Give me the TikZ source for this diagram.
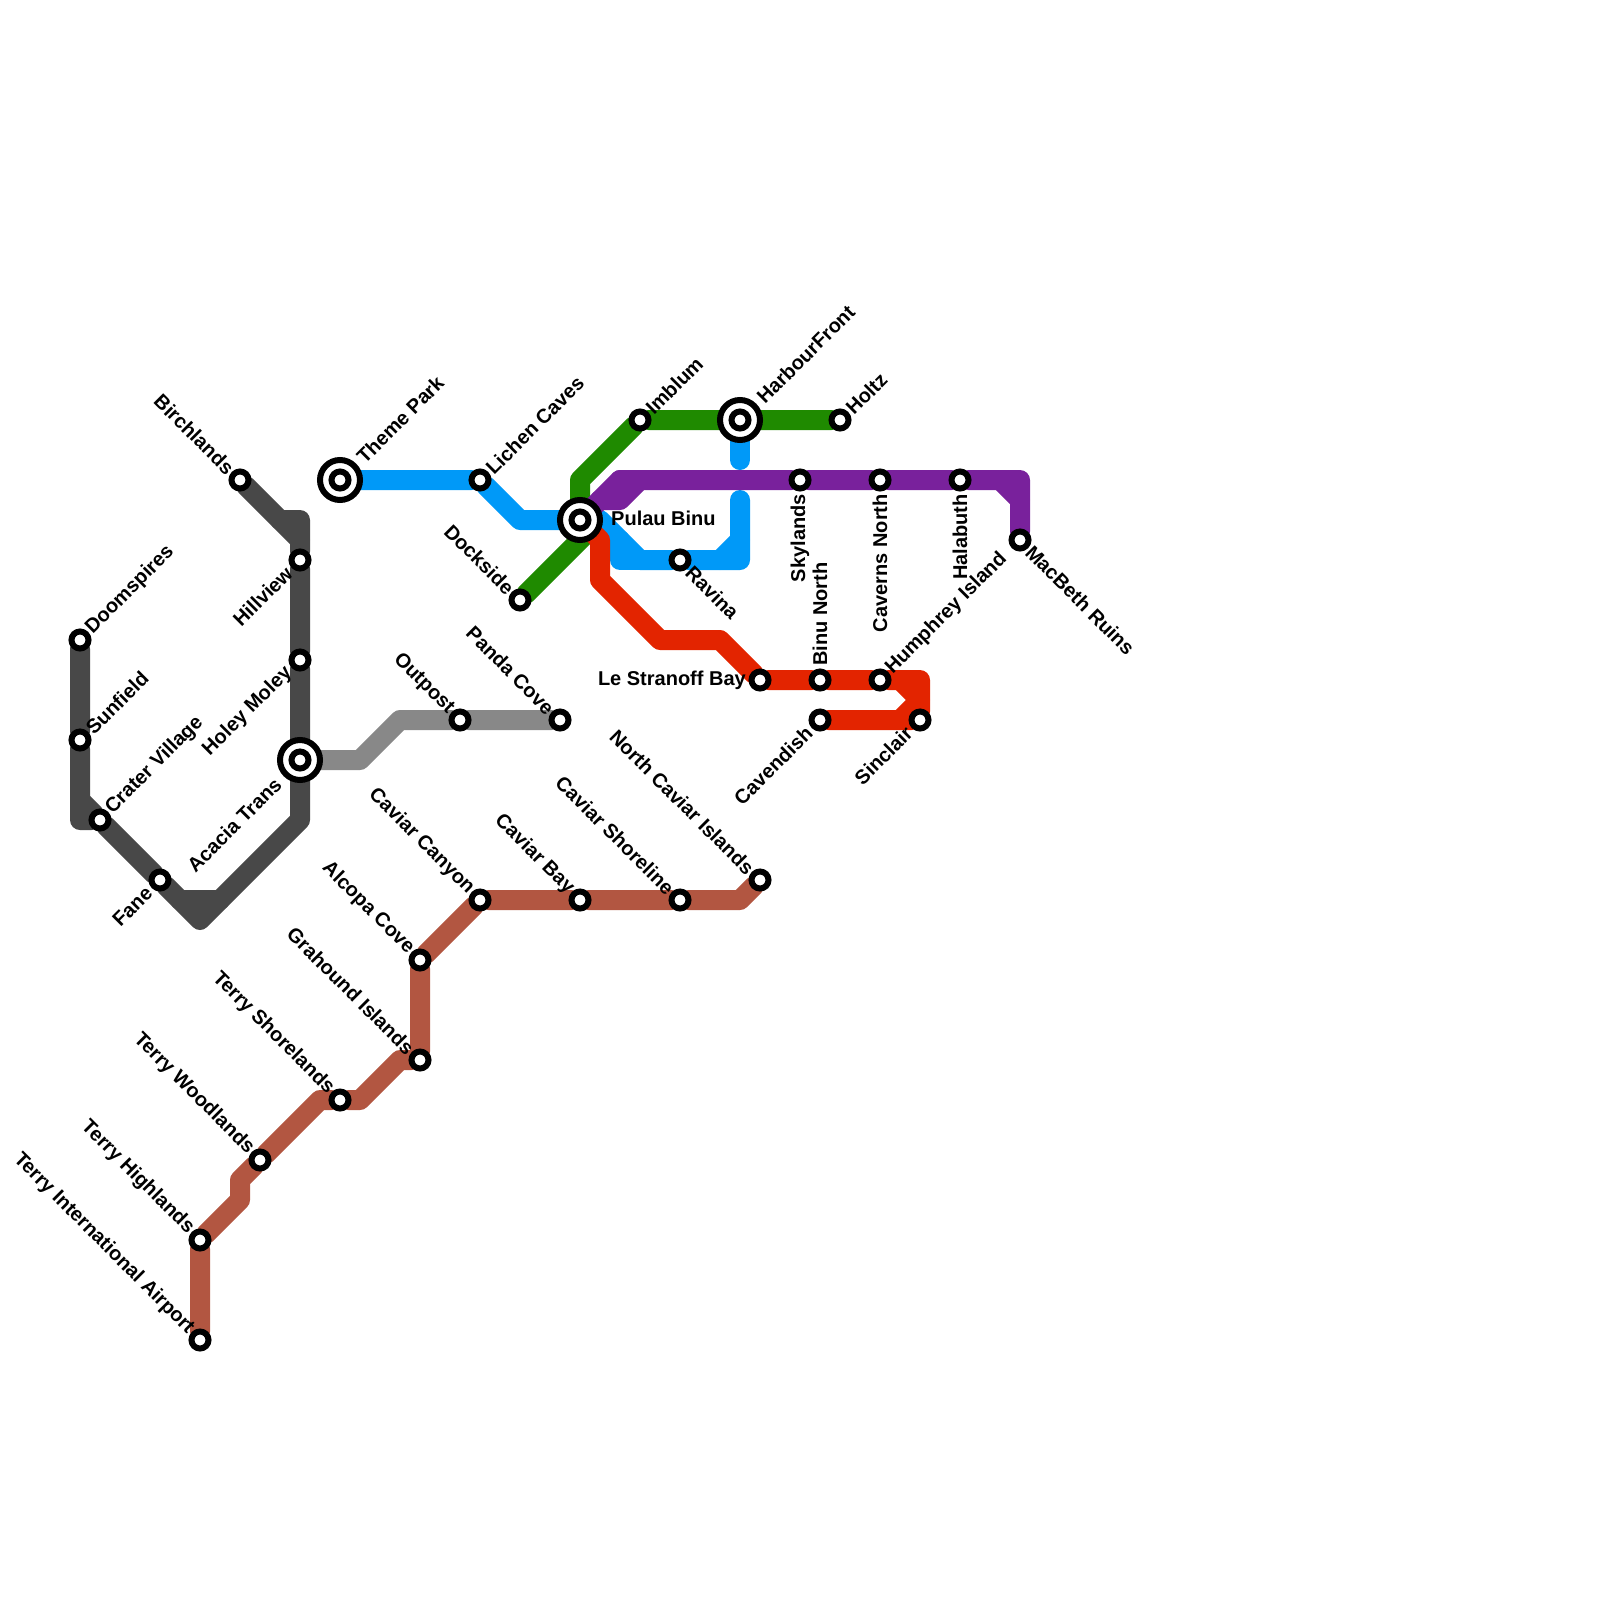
\documentclass[tikz,border=0pt]{standalone}
\usepackage{fontspec}
\setmainfont{Liberation Sans}
\usetikzlibrary{backgrounds}
\definecolor{lineblue}{HTML}{0099F8}
\definecolor{linegreen}{HTML}{1F8A00}
\definecolor{linepurple}{HTML}{79219C}
\definecolor{linered}{HTML}{E32400}
\definecolor{linebrown}{HTML}{B25641}
\definecolor{linedark}{HTML}{484848}
\definecolor{linegrey}{HTML}{888888}

\begin{document}
\begin{tikzpicture}[
  x=1pt, y=-1pt,
  every node/.style={font=\bfseries\fontsize{20}{22}\selectfont, inner sep=0pt},
  metro/.style={line width=20pt, line cap=round, line join=round},
  stn/.style={circle, draw=black, fill=white, line width=6pt, minimum size=17pt, outer sep=0pt},
  hub/.style={stn, minimum size=40pt, path picture={
    \draw[line width=6pt] (path picture bounding box.center) circle (8.5pt);}},
  tagNE/.style={shift={(9,-9)}, rotate=45, anchor=west},
  tagSW/.style={shift={(-11,10)}, rotate=45, anchor=east},
  tagNW/.style={shift={(-9,-9)}, rotate=-45, anchor=east},
  tagSE/.style={shift={(9,9)}, rotate=-45, anchor=west},
  tagUp/.style={shift={(0,-14)}, rotate=90, anchor=west},
  tagDn/.style={shift={(0,14)}, rotate=90, anchor=east}
]
\useasboundingbox (0,0) rectangle (1600,1600);

% Stations, dark line
\node[stn] (doomspires) at (80,640) {};
\node[stn] (sunfield) at (80,740) {};
\node[stn] (crater) at (100,820) {};
\node[stn] (fane) at (160,880) {};
\node[stn] (birchlands) at (240,480) {};
\node[stn] (hillview) at (300,560) {};
\node[stn] (holey) at (300,660) {};
\node[hub] (acacia) at (300,760) {};

% Stations, grey line
\node[stn] (outpost) at (460,720) {};
\node[stn] (panda) at (560,720) {};

% Stations, blue and green lines
\node[hub] (theme) at (340,480) {};
\node[stn] (lichen) at (480,480) {};
\node[hub] (pulau) at (580,520) {};
\node[stn] (ravina) at (680,560) {};
\node[stn] (dockside) at (520,600) {};
\node[stn] (imblum) at (640,420) {};
\node[hub] (harbour) at (740,420) {};
\node[stn] (holtz) at (840,420) {};

% Stations, purple line
\node[stn] (skylands) at (800,480) {};
\node[stn] (caverns) at (880,480) {};
\node[stn] (halabuth) at (960,480) {};
\node[stn] (macbeth) at (1020,540) {};

% Stations, red line
\node[stn] (stranoff) at (760,680) {};
\node[stn] (binunorth) at (820,680) {};
\node[stn] (humphrey) at (880,680) {};
\node[stn] (cavendish) at (820,720) {};
\node[stn] (sinclair) at (920,720) {};

% Stations, brown line
\node[stn] (airport) at (200,1340) {};
\node[stn] (highlands) at (200,1240) {};
\node[stn] (woodlands) at (260,1160) {};
\node[stn] (shorelands) at (340,1100) {};
\node[stn] (grahound) at (420,1060) {};
\node[stn] (alcopa) at (420,960) {};
\node[stn] (canyon) at (480,900) {};
\node[stn] (cavbay) at (580,900) {};
\node[stn] (shoreline) at (680,900) {};
\node[stn] (northcav) at (760,880) {};

% Bends
\coordinate (d1) at (80,800);
\coordinate (d2) at (80,820);
\coordinate (d3) at (180,900);
\coordinate (d4) at (200,920);
\coordinate (d5) at (220,900);
\coordinate (d6) at (300,820);
\coordinate (d7) at (300,540);
\coordinate (d8) at (300,520);
\coordinate (d9) at (280,520);
\coordinate (g1) at (360,760);
\coordinate (g2) at (400,720);
\coordinate (b1) at (520,520);
\coordinate (b2) at (600,520);
\coordinate (b3) at (620,540);
\coordinate (b4) at (620,560);
\coordinate (b5) at (640,560);
\coordinate (b6) at (720,560);
\coordinate (b7) at (740,560);
\coordinate (b8) at (740,540);
\coordinate (b9) at (740,500);
\coordinate (b10) at (740,460);
\coordinate (v1) at (590,530);
\coordinate (v2) at (580,480);
\coordinate (v3) at (620,480);
\coordinate (v4) at (600,500);
\coordinate (v5) at (620,500);
\coordinate (v6) at (640,480);
\coordinate (v7) at (1000,480);
\coordinate (v8) at (1020,480);
\coordinate (v9) at (1020,500);
\coordinate (r1) at (600,540);
\coordinate (r2) at (600,580);
\coordinate (r3) at (660,640);
\coordinate (r4) at (720,640);
\coordinate (r5) at (900,680);
\coordinate (r6) at (920,680);
\coordinate (r7) at (920,700);
\coordinate (r8) at (900,720);
\coordinate (n2) at (240,1200);
\coordinate (n3) at (240,1180);
\coordinate (n4) at (320,1100);
\coordinate (n5) at (360,1100);
\coordinate (n6) at (400,1060);
\coordinate (n7) at (740,900);

% Lines go under the stations
\begin{pgfonlayer}{background}
\draw[metro, linedark] (doomspires) -- (sunfield) -- (d2) -- (crater) -- (fane) -- (d3) -- (d5) -- (d6) -- (acacia) -- (holey) -- (hillview) -- (d8) -- (d9) -- (birchlands);
\draw[metro, linedark] (d1) -- (crater);
\draw[metro, linedark] (d3) -- (d4) -- (d5);
\draw[metro, linedark] (d9) -- (d7);

\draw[metro, linegrey] (acacia) -- (g1) -- (g2) -- (outpost) -- (panda);

\draw[metro, lineblue] (theme) -- (lichen) -- (b1) -- (pulau) -- (b2) -- (b5) -- (ravina) -- (b7) -- (b9);
\draw[metro, lineblue] (b3) -- (b4) -- (b5);
\draw[metro, lineblue] (b6) -- (b8);
\draw[metro, lineblue] (harbour) -- (b10);

\draw[metro, linegreen] (dockside) -- (v1);
\draw[metro, linegreen] (pulau) -- (v2) -- (imblum) -- (harbour) -- (holtz);

\draw[metro, linepurple] (pulau) -- (v3) -- (skylands) -- (caverns) -- (halabuth) -- (v8) -- (macbeth);
\draw[metro, linepurple] (v4) -- (v5) -- (v6) -- (v3);
\draw[metro, linepurple] (v7) -- (v9);

\draw[metro, linered] (pulau) -- (r1) -- (r2) -- (r3) -- (r4) -- (stranoff) -- (binunorth) -- (humphrey) -- (r6) -- (sinclair) -- (cavendish);
\draw[metro, linered] (r5) -- (r7) -- (r8);

\draw[metro, linebrown] (airport) -- (highlands) -- (n2) -- (n3) -- (woodlands) -- (n4) -- (shorelands) -- (n5) -- (n6) -- (grahound) -- (alcopa) -- (canyon) -- (cavbay) -- (shoreline) -- (n7) -- (northcav);
\end{pgfonlayer}

% Labels
\node[tagNE] (t1) at (doomspires) {Doomspires};
\node[tagNE] (t2) at (sunfield) {Sunfield};
\node[tagNE] (t3) at (crater) {Crater Village};
\node[tagSW] (t4) at (fane) {Fane};
\node[tagNW] (t5) at (birchlands) {Birchlands};
\node[tagSW] (t6) at (hillview) {Hillview};
\node[tagSW] (t7) at (holey) {Holey Moley};
\node[shift={(-11,11)}, tagSW] (t8) at (acacia) {Acacia Trans};
\node[tagNW] (t9) at (outpost) {Outpost};
\node[tagNW] (t10) at (panda) {Panda Cove};
\node[shift={(11,-11)}, tagNE] (t11) at (theme) {Theme Park};
\node[tagNE] (t12) at (lichen) {Lichen Caves};
\node[anchor=west] (t13) at (611,518) {Pulau Binu};
\node[tagSE] (t14) at (ravina) {Ravina};
\node[tagNW] (t15) at (dockside) {Dockside};
\node[tagNE] (t16) at (imblum) {Imblum};
\node[shift={(11,-11)}, tagNE] (t17) at (harbour) {HarbourFront};
\node[tagNE] (t18) at (holtz) {Holtz};
\node[tagDn] (t19) at (skylands) {Skylands};
\node[tagDn] (t20) at (caverns) {Caverns North};
\node[tagDn] (t21) at (halabuth) {Halabuth};
\node[tagSE] (t22) at (macbeth) {MacBeth Ruins};
\node[anchor=east] (t23) at (746,680) {Le Stranoff Bay};
\node[tagUp] (t24) at (binunorth) {Binu North};
\node[tagNE] (t25) at (humphrey) {Humphrey Island};
\node[tagSW] (t26) at (cavendish) {Cavendish};
\node[tagSW] (t27) at (sinclair) {Sinclair};
\node[tagNW] (t28) at (airport) {Terry International Airport};
\node[tagNW] (t29) at (highlands) {Terry Highlands};
\node[tagNW] (t30) at (woodlands) {Terry Woodlands};
\node[tagNW] (t31) at (shorelands) {Terry Shorelands};
\node[tagNW] (t32) at (grahound) {Grahound Islands};
\node[tagNW] (t33) at (alcopa) {Alcopa Cove};
\node[tagNW] (t34) at (canyon) {Caviar Canyon};
\node[tagNW] (t35) at (cavbay) {Caviar Bay};
\node[tagNW] (t36) at (shoreline) {Caviar Shoreline};
\node[tagNW] (t37) at (northcav) {North Caviar Islands};

\end{tikzpicture}
\end{document}
